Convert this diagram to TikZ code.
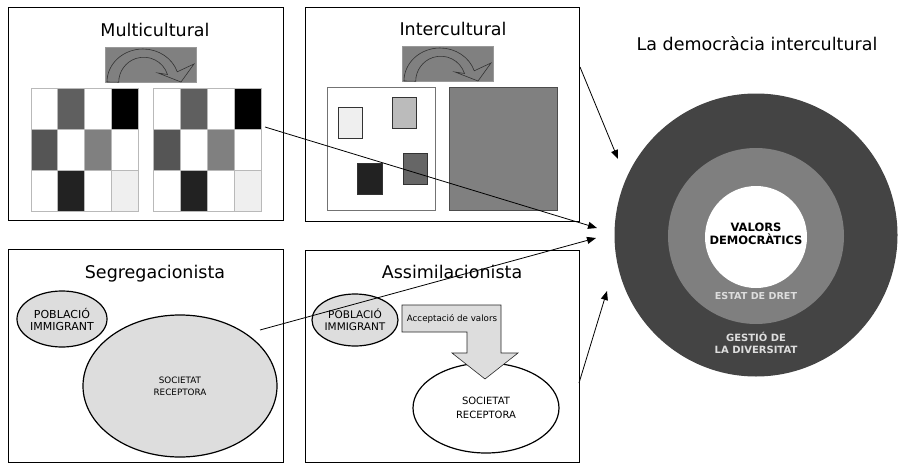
\documentclass[tikz,border=0pt]{standalone}
\usepackage{fontspec}
\setmainfont{DejaVu Sans}
\usetikzlibrary{arrows.meta,shapes.geometric}
\definecolor{cA}{HTML}{5F5F5F}
\definecolor{cB}{HTML}{555555}
\definecolor{cC}{HTML}{808080}
\definecolor{cD}{HTML}{222222}
\definecolor{cE}{HTML}{EFEFEF}
\definecolor{cF}{HTML}{BBBBBB}
\definecolor{cG}{HTML}{666666}
\definecolor{lightfill}{HTML}{DDDDDD}
\definecolor{outerc}{HTML}{444444}
\definecolor{midc}{HTML}{7F7F7F}
\definecolor{txtlight}{HTML}{DDDDDD}
\begin{document}
\begin{tikzpicture}[x=1pt,y=-1pt,
  panel/.style={draw=black,line width=1.3pt,fill=white,anchor=north west,inner sep=0pt},
  ttl/.style={font=\fontsize{17.5}{20}\selectfont,anchor=base,inner sep=0pt},
  conn/.style={draw=black,line width=0.8pt,-{Triangle[length=9pt,width=7pt]}},
  cell/.style={draw=gray!55,line width=0.6pt},
  sq/.style={draw=black!80,line width=0.8pt},
  ell/.style={ellipse,draw=black,line width=1.2pt,inner sep=0pt,align=center},
  curvarrow/.style={fill=cC,draw=black!80,line width=0.6pt},
  ctext/.style={font=\bfseries\fontsize{10}{12}\selectfont,align=center,inner sep=0pt}]
\useasboundingbox (0,0) rectangle (899,463);

% ---------- panels ----------
\node[panel,minimum width=275pt,minimum height=213pt] (multi) at (8,7) {};
\node[panel,minimum width=274pt,minimum height=214pt] (inter) at (305,7) {};
\node[panel,minimum width=275pt,minimum height=213pt] (segr) at (8,249) {};
\node[panel,minimum width=274pt,minimum height=212pt] (assim) at (305,250) {};

\node[ttl] (tmulti) at (155,36) {Multicultural};
\node[ttl] (tinter) at (453,35) {Intercultural};
\node[ttl] (tsegr) at (155,278) {Segregacionista};
\node[ttl] (tassim) at (452,278) {Assimilacionista};

% ---------- curved arrows in gray boxes ----------
\foreach \dx/\dy/\nm in {0/0/ca1,297/-1/ca2}{
  \begin{scope}[shift={(\dx,\dy)}]
    \node[fill=cC,draw=cC!80,inner sep=0pt,minimum width=91pt,minimum height=35pt,anchor=north west] (\nm) at (105,47) {};
    \draw[curvarrow] (107,82) arc[start angle=180,end angle=342,x radius=36,y radius=33]
      -- (194,64) -- (181,82) -- (158,73)
      -- (143+24.5,82-7.5) arc[start angle=342,end angle=180,x radius=25,y radius=25] -- cycle;
  \end{scope}
}

% ---------- multicultural grids ----------
\foreach \gx/\gw in {31/26.75,153/27}{
  \foreach \c/\r/\f in {0/0/white,1/0/cA,2/0/white,3/0/black,
                        0/1/cB,1/1/white,2/1/cC,3/1/white,
                        0/2/white,1/2/cD,2/2/white,3/2/cE}{
    \filldraw[cell,fill=\f] (\gx+\c*\gw,88+\r*41) rectangle ++(\gw,41);
  }
}
\node[inner sep=0pt,minimum width=107pt,minimum height=123pt,anchor=north west] (gridA) at (31,88) {};
\node[inner sep=0pt,minimum width=108pt,minimum height=123pt,anchor=north west] (gridB) at (153,88) {};

% ---------- intercultural ----------
\node[draw=black!55,line width=0.8pt,fill=white,inner sep=0pt,minimum width=108pt,minimum height=123pt,anchor=north west] (mix) at (327,87) {};
\node[draw=black!70,line width=0.8pt,fill=cC,inner sep=0pt,minimum width=108pt,minimum height=123pt,anchor=north west] (fused) at (449,87) {};
\node[sq,fill=cE,inner sep=0pt,minimum width=24pt,minimum height=31pt,anchor=north west] (s1) at (338,107) {};
\node[sq,fill=cF,inner sep=0pt,minimum width=24pt,minimum height=31pt,anchor=north west] (s2) at (392,97) {};
\node[sq,fill=cD,inner sep=0pt,minimum width=25pt,minimum height=31pt,anchor=north west] (s3) at (357,163) {};
\node[sq,fill=cG,inner sep=0pt,minimum width=24pt,minimum height=31pt,anchor=north west] (s4) at (403,153) {};

% ---------- segregacionista ----------
\node[ell,fill=lightfill,minimum width=194pt,minimum height=142pt,font=\fontsize{8.8}{12}\selectfont] (soc1) at (180,386) {SOCIETAT\\RECEPTORA};
\node[ell,fill=lightfill,minimum width=90pt,minimum height=56pt,font=\fontsize{11}{12}\selectfont] (pob1) at (62,319) {POBLACIÓ\\IMMIGRANT};

% ---------- assimilacionista ----------
\node[ell,fill=white,minimum width=146pt,minimum height=90pt,font=\fontsize{10}{14}\selectfont] (soc2) at (486,408) {SOCIETAT\\RECEPTORA};
\node[ell,fill=lightfill,minimum width=86pt,minimum height=52pt,font=\fontsize{10.5}{12}\selectfont] (pob2) at (355,320) {POBLACIÓ\\IMMIGRANT};
\filldraw[fill=lightfill,draw=black!85,line width=0.6pt]
  (402,305) -- (501,305) -- (501,353) -- (518,353) -- (485,379) -- (452,353)
  -- (467,353) -- (467,332) -- (402,332) -- cycle;
\node[font=\fontsize{8.7}{10}\selectfont,inner sep=0pt] (accept) at (452,319) {Acceptació de valors};

% ---------- democracy circle ----------
\node[circle,fill=outerc,minimum size=283pt,inner sep=0pt] (outer) at (756,235) {};
\node[circle,fill=midc,minimum size=176pt,inner sep=0pt] (middle) at (756,236) {};
\node[circle,fill=white,minimum size=102pt,inner sep=0pt] (inner) at (756,237) {};
\node[ctext,font=\bfseries\fontsize{11.5}{12.5}\selectfont,text=black] (valors) at (756,234) {VALORS\\DEMOCRÀTICS};
\node[ctext,font=\bfseries\fontsize{9.6}{12}\selectfont,text=txtlight] (estat) at (756,296) {ESTAT DE DRET};
\node[ctext,text=txtlight] (gestio) at (756,343) {GESTIÓ DE\\LA DIVERSITAT};
\node[font=\fontsize{17.5}{20}\selectfont,anchor=base,inner sep=0pt] (tdemo) at (757,50) {La democràcia intercultural};

% ---------- connectors ----------
\coordinate (m0) at (265,127);  \coordinate (m1) at (597,228);
\coordinate (i0) at (580,67);   \coordinate (i1) at (618,159);
\coordinate (g0) at (260,330);  \coordinate (g1) at (596,238);
\coordinate (a0) at (579,383);  \coordinate (a1) at (607,291);
\draw[conn] (m0) -- (m1);
\draw[conn] (i0) -- (i1);
\draw[conn] (g0) -- (g1);
\draw[conn] (a0) -- (a1);
\end{tikzpicture}
\end{document}
